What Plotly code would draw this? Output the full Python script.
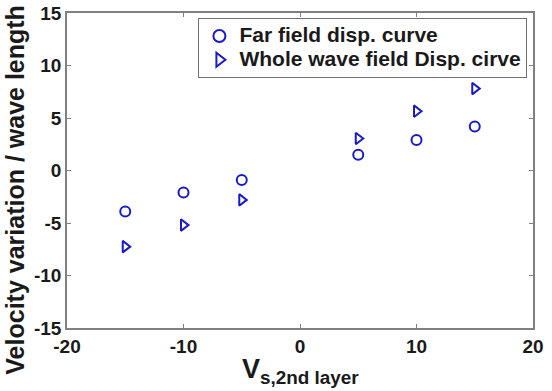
import plotly.graph_objects as go

vs = [-15, -10, -5, 5, 10, 15]
far_field = [-3.9, -2.1, -0.9, 1.5, 2.9, 4.2]
whole_field = [-7.25, -5.2, -2.8, 3.05, 5.65, 7.8]

x_ticks = [-20, -10, 0, 10, 20]
y_ticks = [-15, -10, -5, 0, 5, 10, 15]

FONT = "Liberation Sans"
BLUE = "#1a1acc"
TXT = "#1a1a1a"

def leg(s):
    return f"<span style='font-size:21px;font-weight:bold'>{s}</span>"

fig = go.Figure()
fig.add_trace(go.Scatter(
    x=vs, y=far_field, mode="markers", name=leg("Far field disp. curve"),
    marker=dict(symbol="circle-open", size=10, color=BLUE, line=dict(width=2, color=BLUE)),
))
fig.add_trace(go.Scatter(
    x=vs, y=whole_field, mode="markers", name=leg("Whole wave field Disp. cirve"),
    marker=dict(symbol="triangle-right-open", size=10, color=BLUE, line=dict(width=2, color=BLUE)),
))

axis_common = dict(
    showgrid=False, zeroline=False, showline=True, linecolor="#808080", linewidth=1.5,
    mirror="ticks", ticks="inside", ticklen=4, tickcolor="#808080", automargin=False,
    tickfont=dict(family=FONT, size=19, color=TXT, weight="bold"),
)
fig.update_xaxes(range=[-20, 20], tickvals=x_ticks, ticktext=[str(v) for v in x_ticks], **axis_common)
fig.update_yaxes(range=[-15, 15], tickvals=y_ticks, ticktext=[str(v) for v in y_ticks], **axis_common)

fig.add_annotation(
    text="<b>Velocity variation / wave length</b>", textangle=-90,
    xref="paper", yref="paper", x=-0.111, y=0.44, xanchor="center", yanchor="middle",
    showarrow=False, font=dict(family=FONT, size=25, color=TXT),
)
fig.add_annotation(
    text="<b>V<sub>s,2nd layer</sub></b>",
    xref="paper", yref="paper", x=0.5, y=-0.075, xanchor="center", yanchor="top",
    showarrow=False, font=dict(family=FONT, size=27, color=TXT),
)

fig.update_layout(
    width=552, height=391,
    margin=dict(l=67, r=19, t=13, b=63),
    plot_bgcolor="white", paper_bgcolor="white",
    legend=dict(
        x=0.988, y=0.984, xanchor="right", yanchor="top",
        bordercolor="#707070", borderwidth=1, bgcolor="white",
        font=dict(family=FONT, size=16, color=TXT),
        itemsizing="constant", tracegroupgap=0,
    ),
)

fig.write_html("out.html")
